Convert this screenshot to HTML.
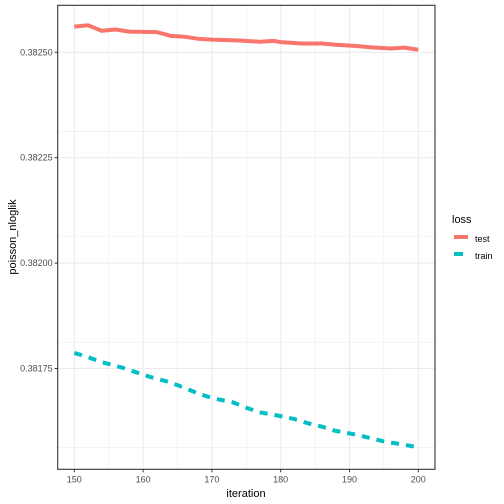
<!DOCTYPE html>
<html><head><meta charset="utf-8"><style>body{margin:0;background:#fff}svg{display:block;font-family:"Liberation Sans",sans-serif}</style></head>
<body>
<svg id="c" width="504" height="504"></svg>
<script>
const iterT=[150,152,154,156,158,162,164,166,168,170,174,177,179,180,183,186,188,191,193,196,198,200];
const testV=[0.382561,0.382564,0.382551,0.382554,0.382549,0.382548,0.382539,0.382537,0.382532,0.382530,0.382528,0.382525,0.382527,0.382524,0.382521,0.382521,0.382518,0.382515,0.382512,0.382509,0.382511,0.382506];
const iterR=[150,152,154,157,159,161,164,166,168,170,173,175,177,180,182,184,186,188,191,193,195,198,200];
const trainV=[0.381787,0.381777,0.381765,0.381752,0.381741,0.381730,0.381717,0.381704,0.381691,0.381680,0.381670,0.381657,0.381646,0.381637,0.381630,0.381620,0.381612,0.381602,0.381593,0.381585,0.381577,0.381569,0.381563];
const xTicks=[150,160,170,180,190,200];
const yTicks=[0.38175,0.382,0.38225,0.3825];
const yLabels=["0.38175","0.38200","0.38225","0.38250"];
const L=57.7,R=435,T=5.3,B=469.3;
const x=v=>74.3+(v-150)*6.88;
const y=v=>52.3-(v-0.3825)*421600;
const svg=document.getElementById('c');const NS='http://www.w3.org/2000/svg';
function mk(t,a,p){const e=document.createElementNS(NS,t);for(const k in a)e.setAttribute(k,a[k]);(p||svg).appendChild(e);return e;}
let e=mk('rect',{x:L,y:T,width:R-L,height:B-T,fill:'#fff'});

// minor grid
for(let i=0;i<xTicks.length-1;i++){const xm=x((xTicks[i]+xTicks[i+1])/2);e=mk('line',{x1:xm,x2:xm,y1:T,y2:B,stroke:'#ebebeb','stroke-width':0.6});}
const ym=[0.3815625,0.3818125,0.3820625,0.3823125];
ym.forEach(v=>{e=mk('line',{x1:L,x2:R,y1:y(v),y2:y(v),stroke:'#ebebeb','stroke-width':0.6});});
xTicks.forEach(v=>{e=mk('line',{x1:x(v),x2:x(v),y1:T,y2:B,stroke:'#ebebeb','stroke-width':1.1});
e=mk('line',{x1:x(v),x2:x(v),y1:B,y2:B+3,stroke:'#333'});
e=mk('text',{x:x(v),y:B+13,'font-size':9,fill:'#4d4d4d','text-anchor':'middle'});e.textContent=v;});
yTicks.forEach((v,i)=>{e=mk('line',{x1:L,x2:R,y1:y(v),y2:y(v),stroke:'#ebebeb','stroke-width':1.1});
e=mk('line',{x1:L-3,x2:L,y1:y(v),y2:y(v),stroke:'#333'});
e=mk('text',{x:L-5,y:y(v)+3,'font-size':9,fill:'#4d4d4d','text-anchor':'end'});e.textContent=yLabels[i];});
e=mk('polyline',{points:iterT.map((v,i)=>x(v)+','+y(testV[i])).join(' '),fill:'none',stroke:'#f8766d','stroke-width':4});

e=mk('polyline',{points:iterR.map((v,i)=>x(v)+','+y(trainV[i])).join(' '),fill:'none',stroke:'#00bfc4','stroke-width':4,'stroke-dasharray':'8,7'});

e=mk('rect',{x:L,y:T,width:R-L,height:B-T,fill:'none',stroke:'#333','stroke-width':1.1});

e=mk('text',{x:246,y:497,'font-size':11,fill:'#000','text-anchor':'middle'});e.textContent='iteration';
e=mk('text',{x:0,y:0,'font-size':11,fill:'#000','text-anchor':'middle',transform:'translate(16,237) rotate(-90)'});e.textContent='poisson_nloglik';
e=mk('text',{x:452,y:223,'font-size':11,fill:'#000'});e.textContent='loss';
e=mk('line',{x1:454,x2:468,y1:237,y2:237,stroke:'#f8766d','stroke-width':4});
e=mk('text',{x:475,y:242,'font-size':9,fill:'#000'});e.textContent='test';
e=mk('line',{x1:454,x2:463,y1:254,y2:254,stroke:'#00bfc4','stroke-width':4});
e=mk('text',{x:475,y:259,'font-size':9,fill:'#000'});e.textContent='train';
</script>
</body></html>
